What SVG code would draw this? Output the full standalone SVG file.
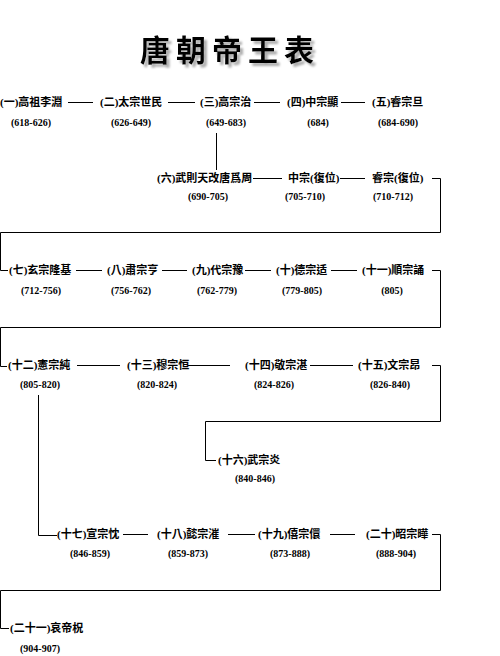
<svg xmlns="http://www.w3.org/2000/svg" width="500" height="656" viewBox="0 0 500 656">
<defs>
<filter id="sh" x="-10%" y="-20%" width="130%" height="160%">
<feDropShadow dx="3" dy="3" stdDeviation="1.2" flood-color="#999" flood-opacity="0.8"/>
</filter>
</defs>
<style>
.n{font-family:"Liberation Serif","Noto Sans CJK TC",serif;font-size:11px;font-weight:bold;fill:#000}
.y{font-family:"Liberation Serif","Noto Sans CJK TC",serif;font-size:10px;font-weight:bold;fill:#000;text-anchor:middle}
.t{font-family:"Noto Sans CJK TC",sans-serif;font-size:30px;font-weight:700;letter-spacing:6px;fill:#000}
.c path{fill:none;stroke:#000;stroke-width:1}
</style>
<rect width="500" height="656" fill="#fff"/>
<g id="title">
<text class="t" x="140" y="61" filter="url(#sh)">唐朝帝王表</text>
</g>
<g class="c" id="connectors">
<path d="M68 102.5H93M168 102.5H195M254 102.5H280M341 102.5H365"/>
<path d="M216.5 133V170"/>
<path d="M253 178.5H282M340 178.5H365"/>
<path d="M432 178.5H440.5V232.5H0.5V270.5H8"/>
<path d="M76 270.5H102M162 270.5H187M245 270.5H271M331 270.5H357"/>
<path d="M432 270.5H440.5V327.5H0.5V366.5H7"/>
<path d="M77 365.5H120M188 365.5H230M310 365.5H353"/>
<path d="M432 365.5H440.5V421.5H205.5V460.5H216"/>
<path d="M38.5 395V535.5H57"/>
<path d="M123 534.5H148M228 534.5H255M330 534.5H355"/>
<path d="M432 534.5H440.5V590.5H0.5V628.5H9"/>
</g>
<g id="n1"><text class="n" x="0" y="106">(一)高祖李淵</text><text class="y" x="31" y="126">(618-626)</text></g>
<g id="n2"><text class="n" x="100" y="106">(二)太宗世民</text><text class="y" x="131" y="126">(626-649)</text></g>
<g id="n3"><text class="n" x="200" y="106">(三)高宗治</text><text class="y" x="226" y="126">(649-683)</text></g>
<g id="n4"><text class="n" x="287" y="106">(四)中宗顯</text><text class="y" x="318" y="126">(684)</text></g>
<g id="n5"><text class="n" x="372" y="106">(五)睿宗旦</text><text class="y" x="398" y="126">(684-690)</text></g>
<g id="n6"><text class="n" x="157" y="182">(六)武則天改唐爲周</text><text class="y" x="208" y="200">(690-705)</text></g>
<g id="n6b"><text class="n" x="288" y="182">中宗(復位)</text><text class="y" x="305" y="200">(705-710)</text></g>
<g id="n6c"><text class="n" x="372" y="182">睿宗(復位)</text><text class="y" x="393" y="200">(710-712)</text></g>
<g id="n7"><text class="n" x="9" y="274">(七)玄宗隆基</text><text class="y" x="41" y="294">(712-756)</text></g>
<g id="n8"><text class="n" x="107" y="274">(八)肅宗亨</text><text class="y" x="131" y="294">(756-762)</text></g>
<g id="n9"><text class="n" x="192" y="274">(九)代宗豫</text><text class="y" x="217" y="294">(762-779)</text></g>
<g id="n10"><text class="n" x="276" y="274">(十)德宗适</text><text class="y" x="302" y="294">(779-805)</text></g>
<g id="n11"><text class="n" x="362" y="274">(十一)順宗誦</text><text class="y" x="392" y="294">(805)</text></g>
<g id="n12"><text class="n" x="8" y="369">(十二)憲宗純</text><text class="y" x="40" y="388">(805-820)</text></g>
<g id="n13"><text class="n" x="127" y="369">(十三)穆宗恒</text><text class="y" x="157" y="388">(820-824)</text></g>
<g id="n14"><text class="n" x="245" y="369">(十四)敬宗湛</text><text class="y" x="274" y="388">(824-826)</text></g>
<g id="n15"><text class="n" x="358" y="369">(十五)文宗昂</text><text class="y" x="390" y="388">(826-840)</text></g>
<g id="n16"><text class="n" x="218" y="464">(十六)武宗炎</text><text class="y" x="255" y="482">(840-846)</text></g>
<g id="n17"><text class="n" x="57" y="538">(十七)宣宗忱</text><text class="y" x="90" y="557">(846-859)</text></g>
<g id="n18"><text class="n" x="157" y="538">(十八)懿宗漼</text><text class="y" x="188" y="557">(859-873)</text></g>
<g id="n19"><text class="n" x="258" y="538">(十九)僖宗儇</text><text class="y" x="290" y="557">(873-888)</text></g>
<g id="n20"><text class="n" x="366" y="538">(二十)昭宗曄</text><text class="y" x="396" y="557">(888-904)</text></g>
<g id="n21"><text class="n" x="10" y="632">(二十一)哀帝柷</text><text class="y" x="40" y="652">(904-907)</text></g>
</svg>
